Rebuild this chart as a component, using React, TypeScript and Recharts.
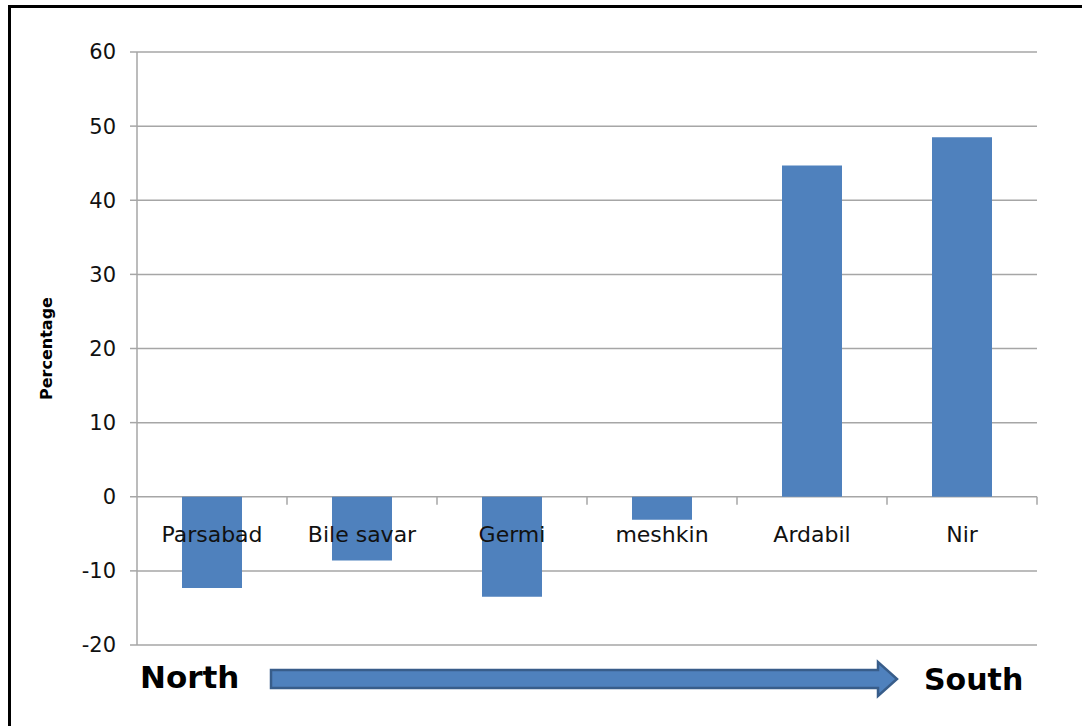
import React from 'react';
import { BarChart, Bar, XAxis, YAxis, CartesianGrid, LabelList } from 'recharts';

// Change in percentage per station, ordered from north to south
const stations = ['Parsabad', 'Bile savar', 'Germi', 'meshkin', 'Ardabil', 'Nir'];
const changes = [-12.3, -8.6, -13.5, -3.1, 44.7, 48.5];
const yTicks = [-20, -10, 0, 10, 20, 30, 40, 50, 60];

const data = stations.map((name, i) => ({ name, value: changes[i] }));

const BAR_COLOR = '#4f81bd';
const GRID_COLOR = '#a6a6a6';
const FONT = '"DejaVu Sans", "Open Sans", sans-serif';
const CATEGORY_GAP = 0.3;

// Category name under the zero line plus the axis tick mark between categories
const StationLabel = (props: any) => {
  const vb = props.viewBox ?? props;
  const x = Number(vb.x);
  const y = Number(vb.y);
  const w = Number(vb.width);
  const h = Number(vb.height);
  const idx = props.index ?? 0;
  const v = changes[idx];
  let zeroY: number;
  if (v >= 0) zeroY = y + h;
  else zeroY = h < 0 ? y + h : y;
  const cx = x + w / 2;
  const band = w / (1 - 2 * CATEGORY_GAP);
  const right = cx + band / 2;
  return (
    <g>
      <line x1={right} x2={right} y1={zeroY} y2={zeroY + 8} stroke={GRID_COLOR} strokeWidth={1.5} />
      <text
        x={cx}
        y={zeroY + 45}
        textAnchor="middle"
        fontSize={22}
        fontFamily={FONT}
        fill="#111"
      >
        {stations[idx]}
      </text>
    </g>
  );
};

export default function App() {
  return (
    <div style={{ position: 'absolute', left: 0, top: 0, width: 1082, height: 726, overflow: 'hidden', background: '#fff', fontFamily: FONT }}>
      <div
        style={{
          position: 'absolute',
          left: 8,
          top: 5,
          width: 1200,
          height: 800,
          borderLeft: '3px solid #000',
          borderTop: '3px solid #000',
        }}
      />
      <div style={{ position: 'absolute', left: 0, top: 0 }}>
        <BarChart
          width={1082}
          height={726}
          data={data}
          margin={{ top: 52, right: 45, bottom: 81, left: 0 }}
          barCategoryGap={`${CATEGORY_GAP * 100}%`}
        >
          <CartesianGrid vertical={false} stroke={GRID_COLOR} strokeWidth={1.5} />
          <XAxis dataKey="name" hide />
          <YAxis
            width={137}
            domain={[-20, 60]}
            ticks={yTicks}
            interval={0}
            stroke={GRID_COLOR}
            strokeWidth={1.5}
            tickSize={7}
            tickMargin={14}
            tick={{ fill: '#111', fontSize: 21, fontFamily: FONT }}
            label={{
              value: 'Percentage',
              angle: -90,
              position: 'insideLeft',
              offset: 46,
              style: { fontWeight: 700, fontSize: 16, fill: '#000', fontFamily: FONT, textAnchor: 'middle' },
            }}
          />
          <Bar dataKey="value" fill={BAR_COLOR} isAnimationActive={false}>
            <LabelList dataKey="name" content={StationLabel} />
          </Bar>
        </BarChart>
      </div>
      <svg width={1082} height={726} style={{ position: 'absolute', left: 0, top: 0, pointerEvents: 'none' }}>
        <path
          d="M271,670 L878,670 L878,662 L897,679 L878,696 L878,688 L271,688 Z"
          fill={BAR_COLOR}
          stroke="#385d8a"
          strokeWidth={2.5}
        />
        <text x={140} y={688} fontSize={31} fontWeight={700} fontFamily={FONT} fill="#000">North</text>
        <text x={924} y={690} fontSize={30} fontWeight={700} fontFamily={FONT} fill="#000">South</text>
      </svg>
    </div>
  );
}
